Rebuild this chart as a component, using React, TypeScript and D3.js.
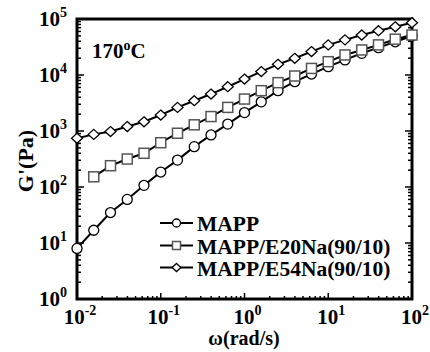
import React, { useEffect, useRef } from 'react';
import * as d3 from 'd3';

// angular frequency (rad/s), log spaced 5 per decade
const freqExp = d3.range(0, 21).map(i => -2 + i * 0.2);

const mappValues = [8.0, 16.9, 35, 60, 107, 185, 302, 525, 850, 1330, 2130, 3320, 5250, 7600,
  10400, 14100, 18600, 24400, 30800, 39200, 49800];
const e20Values = [152, 240, 316, 400, 618, 912, 1290, 1810, 2640, 3720, 5250, 7300, 9600,
  13100, 17300, 22800, 28000, 34500, 43600, 51800];
const e54Values = [741, 870, 977, 1200, 1460, 1930, 2640, 3470, 4570, 6170, 8470, 11500, 15500,
  19900, 26200, 34500, 42400, 51800, 61900, 72700, 85900];

const seriesNames = ['MAPP', 'MAPP/E20Na(90/10)', 'MAPP/E54Na(90/10)'];
const xTickExps = [-2, -1, 0, 1, 2];
const yTickExps = [0, 1, 2, 3, 4, 5];

const FONT = "'Liberation Serif', 'DejaVu Serif', 'Times New Roman', serif";

export default function App() {
  const ref = useRef<SVGSVGElement>(null);

  useEffect(() => {
    if (!ref.current) return;
    const svg = d3.select(ref.current);
    svg.selectAll('*').remove();

    const margin = { top: 19, right: 18, bottom: 53, left: 77 };
    const W = 430, H = 352;

    const x = d3.scaleLog().domain([1e-2, 1e2]).range([margin.left, W - margin.right]);
    const y = d3.scaleLog().domain([1, 1e5]).range([H - margin.bottom, margin.top]);

    const series = [
      { name: seriesNames[0], shape: 'circle', stroke: '#000', pts: mappValues.map((v, i) => [Math.pow(10, freqExp[i]), v]) },
      { name: seriesNames[1], shape: 'square', stroke: '#555', pts: e20Values.map((v, i) => [Math.pow(10, freqExp[i + 1]), v]) },
      { name: seriesNames[2], shape: 'diamond', stroke: '#000', pts: e54Values.map((v, i) => [Math.pow(10, freqExp[i]), v]) },
    ];

    const g = svg.append('g').style('font-family', FONT).style('font-weight', 'bold');
    const x0 = x.range()[0], x1 = x.range()[1];
    const y0 = y.range()[0], y1 = y.range()[1];

    // ticks
    const minorX: number[] = [];
    for (let e = -2; e < 2; e++) for (let k = 1; k <= 9; k++) minorX.push(k * Math.pow(10, e));
    const minorY: number[] = [];
    for (let e = 0; e < 5; e++) for (let k = 1; k <= 9; k++) minorY.push(k * Math.pow(10, e));

    minorX.forEach(v => {
      const major = Math.abs(Math.log10(v) - Math.round(Math.log10(v))) < 1e-9;
      const len = major ? 6 : 3;
      g.append('line').attr('x1', x(v)).attr('x2', x(v)).attr('y1', y0).attr('y2', y0 - len)
        .attr('stroke', '#000').attr('stroke-width', 1.5);
    });
    minorY.forEach(v => {
      const major = Math.abs(Math.log10(v) - Math.round(Math.log10(v))) < 1e-9;
      const len = major ? 7 : 4;
      g.append('line').attr('x1', x0).attr('x2', x0 + len).attr('y1', y(v)).attr('y2', y(v))
        .attr('stroke', '#000').attr('stroke-width', 1.5);
      g.append('line').attr('x1', x1).attr('x2', x1 - len).attr('y1', y(v)).attr('y2', y(v))
        .attr('stroke', '#000').attr('stroke-width', 1.5);
    });

    // frame
    g.append('rect').attr('x', x0).attr('y', y1).attr('width', x1 - x0).attr('height', y0 - y1)
      .attr('fill', 'none').attr('stroke', '#000').attr('stroke-width', 3);

    // tick labels
    xTickExps.forEach(e => {
      const t = g.append('text').attr('x', x(Math.pow(10, e)) + 3).attr('y', y0 + 25)
        .attr('text-anchor', 'middle').style('font-size', '21px');
      t.append('tspan').text('10');
      t.append('tspan').attr('dy', -9).style('font-size', '14px').text(String(e));
    });
    yTickExps.forEach(e => {
      const t = g.append('text').attr('x', x0 - 10).attr('y', y(Math.pow(10, e)) + 7)
        .attr('text-anchor', 'end').style('font-size', '21px');
      t.append('tspan').text('10');
      t.append('tspan').attr('dy', -9).style('font-size', '14px').text(String(e));
    });

    // axis titles
    g.append('text').attr('transform', `translate(33,161) rotate(-90)`)
      .attr('text-anchor', 'middle').style('font-size', '22px').text("G'(Pa)");
    g.append('text').attr('x', 244).attr('y', 345)
      .attr('text-anchor', 'middle').style('font-size', '20px').text('ω(rad/s)');

    const tt = g.append('text').attr('x', 92).attr('y', 58).style('font-size', '21px');
    tt.append('tspan').text('170');
    tt.append('tspan').attr('dy', -8).style('font-size', '14px').text('o');
    tt.append('tspan').attr('dy', 8).text('C');

    const drawMarker = (sel: any, shape: string, cx: number, cy: number, s: number, stroke: string) => {
      if (shape === 'circle') {
        sel.append('circle').attr('cx', cx).attr('cy', cy).attr('r', s)
          .attr('fill', '#fff').attr('stroke', stroke).attr('stroke-width', 1.3);
      } else if (shape === 'square') {
        sel.append('rect').attr('x', cx - s).attr('y', cy - s).attr('width', 2 * s).attr('height', 2 * s)
          .attr('fill', '#fff').attr('stroke', stroke).attr('stroke-width', 1.5);
      } else {
        const w = s * 1.1, h = s;
        sel.append('path').attr('d', `M${cx},${cy - h}L${cx + w},${cy}L${cx},${cy + h}L${cx - w},${cy}Z`)
          .attr('fill', '#fff').attr('stroke', stroke).attr('stroke-width', 1.3);
      }
    };

    const line = d3.line<number[]>().x(d => x(d[0])).y(d => y(d[1]));
    series.forEach(s => {
      g.append('path').datum(s.pts).attr('d', line).attr('fill', 'none')
        .attr('stroke', '#000').attr('stroke-width', 2);
    });
    series.forEach(s => {
      s.pts.forEach(p => drawMarker(g, s.shape, x(p[0]), y(p[1]), 5, s.stroke));
    });

    // legend
    const legY = [223, 245.5, 267.5];
    series.forEach((s, i) => {
      g.append('line').attr('x1', 160).attr('x2', 193).attr('y1', legY[i]).attr('y2', legY[i])
        .attr('stroke', '#000').attr('stroke-width', 2);
      drawMarker(g, s.shape, 176.5, legY[i], 4, s.stroke);
      g.append('text').attr('x', 197).attr('y', legY[i] + 8).style('font-size', '21.5px').text(s.name);
    });
  }, []);

  return (
    <svg ref={ref} width={430} height={352}
      style={{ position: 'absolute', left: 0, top: 0, background: '#fff' }} />
  );
}
